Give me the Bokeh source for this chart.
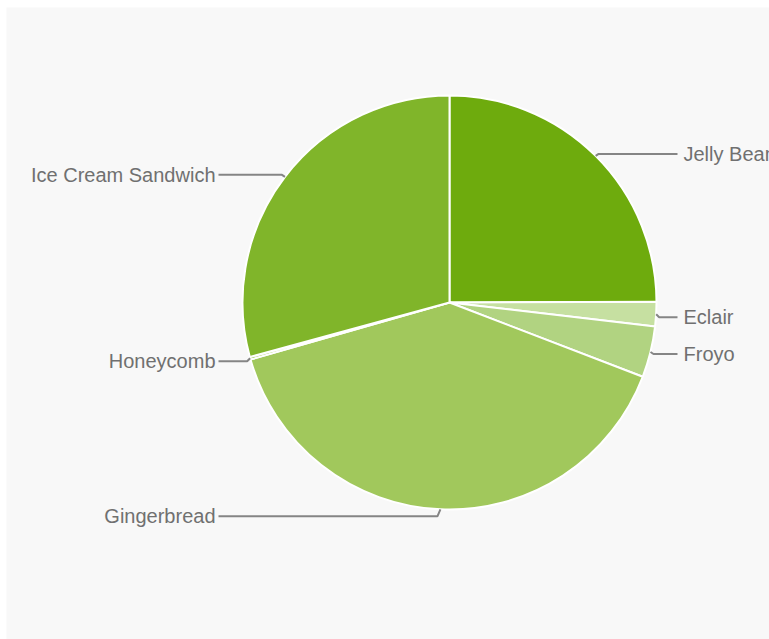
import math
from bokeh.plotting import figure
from bokeh.models import Range1d, ColumnDataSource
from bokeh.core.properties import value
from bokeh.embed import file_html
from bokeh.resources import INLINE

# Data (Android platform versions, share in %)
versions = ["Jelly Bean", "Eclair", "Froyo", "Gingerbread", "Honeycomb", "Ice Cream Sandwich"]
shares = [25.0, 1.9, 4.0, 39.8, 0.2, 29.3]
colors = ["#6EAB0D", "#C6E0A1", "#B1D381", "#A1C85C", "#95C24A", "#80B52A"]

# layout (pixels)
W, H = 769, 639
left_pad, top_pad = 6, 7
cx, cy_screen, R = 449, 302, 207
fw, fh = W - left_pad, H - top_pad

p = figure(width=W, height=H, output_backend="svg", toolbar_location=None,
           x_range=Range1d(left_pad, W), y_range=Range1d(0, fh),
           min_border_left=left_pad, min_border_top=top_pad,
           min_border_right=0, min_border_bottom=0)
p.axis.visible = False
p.grid.visible = False
p.outline_line_color = None
p.border_fill_color = "white"
p.background_fill_color = "#F8F8F8"

cy = fh - (cy_screen - top_pad)

total = sum(shares)
starts, ends, mids = [], [], []
cum = 0.0
for s in shares:
    a0 = math.pi / 2 - 2 * math.pi * cum / total
    cum += s
    a1 = math.pi / 2 - 2 * math.pi * cum / total
    starts.append(a1)
    ends.append(a0)
    mids.append((a0 + a1) / 2)

src = ColumnDataSource(dict(start=starts, end=ends, color=colors, name=versions))
p.wedge(x=cx, y=cy, radius=R, start_angle="start", end_angle="end",
        fill_color="color", line_color="white", line_width=2, source=src)

# leader lines and labels
label_dy = {"Eclair": -3, "Froyo": -2, "Honeycomb": -3, "Gingerbread": -7}
xs_l, ys_l = [], []
tx, ty, tt, ta = [], [], [], []
for name, m in zip(versions, mids):
    ex = cx + R * math.cos(m)
    ey = cy + R * math.sin(m)
    right = math.cos(m) > 0
    ly = ey + label_dy.get(name, 2)
    bx = ex + (3 if right else -3)
    if right:
        end_x = 677
        text_x = 683
    else:
        end_x = 218
        text_x = 215
    xs_l.append([ex, bx, end_x])
    ys_l.append([ey, ly, ly])
    tx.append(text_x)
    ty.append(ly)
    tt.append(name)
    ta.append("left" if right else "right")

p.multi_line(xs=xs_l, ys=ys_l, line_color="#858585", line_width=2)
p.text(x=tx, y=ty, text=tt, text_align=ta, text_baseline="middle",
       text_font=value("Liberation Sans"), text_font_size="20px", text_color="#707070")

open("out.html", "w").write(file_html(p, INLINE))
